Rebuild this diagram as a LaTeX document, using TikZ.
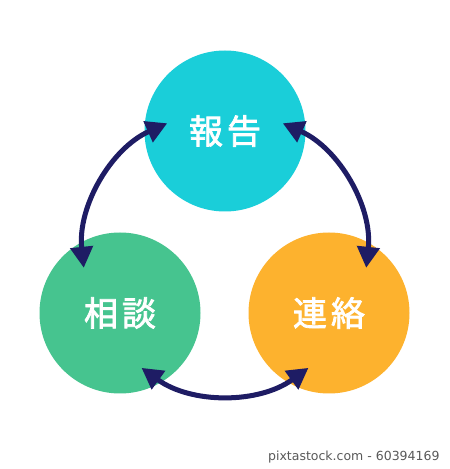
\documentclass[tikz,border=0pt]{standalone}
\usepackage{fontspec}
\newfontfamily\cjk[FakeBold=2.2]{Noto Sans CJK JP}
\newfontfamily\wmfont{DejaVu Sans}
\usetikzlibrary{arrows.meta}
\definecolor{cyanc}{RGB}{26,206,217}
\definecolor{greenc}{RGB}{70,196,143}
\definecolor{orangec}{RGB}{253,178,46}
\definecolor{navy}{RGB}{30,28,100}
\begin{document}
\begin{tikzpicture}[x=1pt,y=1pt,
  bubble/.style={circle,minimum size=161pt,inner sep=0pt,text=white,font=\cjk\fontsize{34}{36}\selectfont},
  link/.style={draw=navy,line width=5pt,{Triangle[length=21pt,width=22pt]}-{Triangle[length=21pt,width=22pt]}}]
\useasboundingbox (0,0) rectangle (450,469);
\fill[white] (0,0) rectangle (450,469);
\node[bubble,fill=cyanc] (hou) at (225,338) {報\hspace{4pt}告};
\node[bubble,fill=greenc] (sou) at (120,156) {相\hspace{4pt}談};
\node[bubble,fill=orangec] (ren) at (329,156) {連\hspace{4pt}絡};
\coordinate (c) at (225,216);
\draw[link] ([shift={(114:142)}]c) arc[start angle=114,end angle=186,radius=142];
\draw[link] ([shift={(66:142)}]c) arc[start angle=66,end angle=-6,radius=142];
\draw[link] ([shift={(234:142)}]c) arc[start angle=234,end angle=306,radius=142];
\node[font=\wmfont\fontsize{12.5}{14}\selectfont,text=black!65,anchor=east] (wm) at (443,12) {pixtastock.com - 60394169};
\end{tikzpicture}
\end{document}
